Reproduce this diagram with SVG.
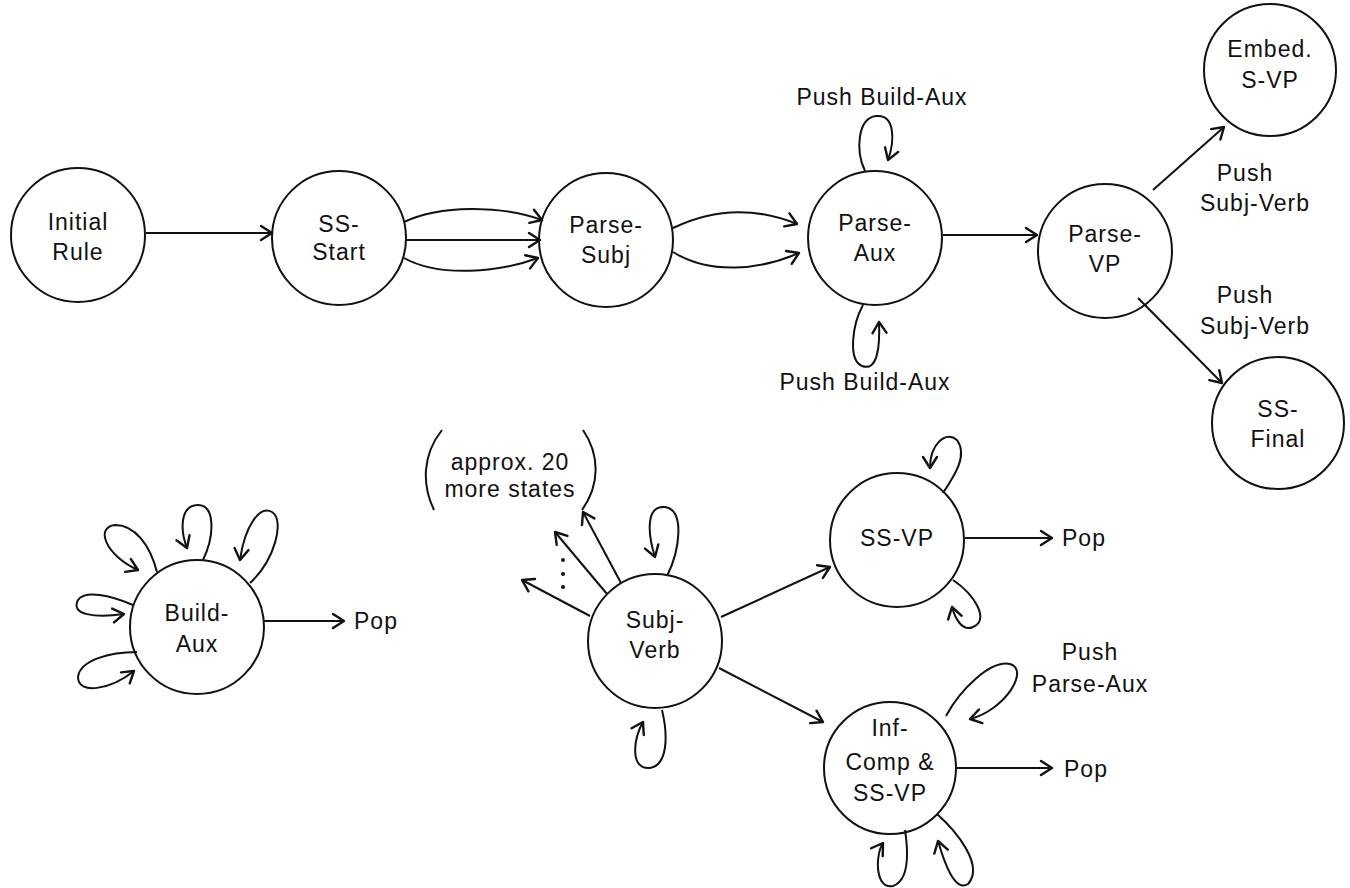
<svg xmlns="http://www.w3.org/2000/svg" width="1350" height="888" viewBox="0 0 1350 888">
<style>
.n{fill:none;stroke:#111;stroke-width:2}
.t{font-family:"Liberation Sans",Arial,sans-serif;font-size:23px;fill:#111;text-anchor:middle;letter-spacing:1px}
.e{fill:none;stroke:#111;stroke-width:2;marker-end:url(#ah)}
.p{fill:none;stroke:#111;stroke-width:2}
</style>
<defs>
<marker id="ah" viewBox="-14 -9 16 18" refX="0" refY="0" markerWidth="16" markerHeight="18" orient="auto" markerUnits="userSpaceOnUse">
<path d="M-11,-7 L0,0 L-11,7" fill="none" stroke="#111" stroke-width="2.4" stroke-linejoin="round" stroke-linecap="round"/>
</marker>
</defs>
<rect width="1350" height="888" fill="#fff"/>
<g id="connectors">
<path class="e" d="M146,233 L272,233"/>
<path class="e" d="M404,222 C440,205 500,205 542,220"/>
<path class="e" d="M406,240 L540,240"/>
<path class="e" d="M404,258 C440,278 500,272 538,258"/>
<path class="e" d="M673,228 C710,210 750,205 797,224"/>
<path class="e" d="M673,252 C710,275 760,270 799,253"/>
<path class="e" d="M943,235 L1037,235"/>
<path class="e" d="M865,171 C855,150 858,118 876,116 C895,114 895,140 888,160"/>
<path class="e" d="M863,305 C852,325 848,360 862,366 C878,372 880,345 879,322"/>
<path class="e" d="M1153,190 L1224,127"/>
<path class="e" d="M1138,298 L1222,383"/>
<path class="e" d="M157,572 C150,545 135,525 115,525 C95,527 105,555 138,570"/>
<path class="e" d="M203,560 C215,535 215,505 198,505 C180,505 180,530 187,548"/>
<path class="e" d="M250,583 C275,560 285,520 272,512 C260,505 245,525 240,560"/>
<path class="e" d="M133,605 C110,595 85,590 78,600 C70,615 95,618 124,614"/>
<path class="e" d="M137,652 C110,652 80,660 78,677 C78,695 110,690 134,671"/>
<path class="e" d="M264,621 L344,621"/>
<path class="e" d="M590,616 L522,580"/>
<path class="e" d="M607,594 L555,532"/>
<path class="e" d="M621,583 L583,512"/>
<path class="e" d="M667,576 C680,550 685,510 665,507 C645,505 648,535 655,557"/>
<path class="e" d="M662,710 C668,735 668,765 650,768 C630,770 633,740 643,722"/>
<path class="e" d="M721,617 L830,567"/>
<path class="e" d="M719,668 L823,722"/>
<path class="e" d="M965,538 L1052,538"/>
<path class="e" d="M943,493 C955,475 968,455 957,440 C945,430 930,445 930,468"/>
<path class="e" d="M953,580 C975,595 990,620 973,627 C962,632 955,618 952,607"/>
<path class="e" d="M957,768 L1052,768"/>
<path class="e" d="M946,716 C960,690 990,660 1010,664 C1030,670 1005,710 970,719"/>
<path class="e" d="M905,830 C908,850 910,880 893,886 C875,890 875,855 883,843"/>
<path class="e" d="M937,814 C955,830 985,865 968,884 C955,892 945,865 938,841"/>
</g>
<g id="labels">
<text class="t" x="882" y="105">Push Build-Aux</text>
<text class="t" x="865" y="390">Push Build-Aux</text>
<text class="t" x="1245" y="181">Push</text>
<text class="t" x="1255" y="211">Subj-Verb</text>
<text class="t" x="1245" y="303">Push</text>
<text class="t" x="1255" y="334">Subj-Verb</text>
<text class="t" x="354" y="629" style="text-anchor:start">Pop</text>
<text class="t" x="1062" y="546" style="text-anchor:start">Pop</text>
<text class="t" x="1064" y="777" style="text-anchor:start">Pop</text>
<text class="t" x="1090" y="660">Push</text>
<text class="t" x="1090" y="692">Parse-Aux</text>
</g>
<g id="more-states">
<path class="p" d="M442,430 C422,455 422,485 434,510"/>
<path class="p" d="M583,430 C600,455 600,485 582,510"/>
<text class="t" x="510" y="470">approx. 20</text>
<text class="t" x="510" y="497">more states</text>
<circle cx="563" cy="560" r="2" fill="#111"/>
<circle cx="563" cy="574" r="2" fill="#111"/>
<circle cx="563" cy="587" r="2" fill="#111"/>
</g>
<g id="initial-rule"><circle class="n" cx="78" cy="235" r="67"/><text class="t" x="78" y="230">Initial</text><text class="t" x="78" y="260">Rule</text></g>
<g id="ss-start"><circle class="n" cx="339" cy="238" r="67"/><text class="t" x="339" y="232">SS-</text><text class="t" x="339" y="260">Start</text></g>
<g id="parse-subj"><circle class="n" cx="606" cy="240" r="67"/><text class="t" x="606" y="233">Parse-</text><text class="t" x="606" y="263">Subj</text></g>
<g id="parse-aux"><circle class="n" cx="875" cy="238" r="67"/><text class="t" x="875" y="231">Parse-</text><text class="t" x="875" y="261">Aux</text></g>
<g id="parse-vp"><circle class="n" cx="1105" cy="251" r="67"/><text class="t" x="1105" y="242">Parse-</text><text class="t" x="1105" y="272">VP</text></g>
<g id="embed-s-vp"><circle class="n" cx="1270" cy="70" r="66"/><text class="t" x="1270" y="57">Embed.</text><text class="t" x="1270" y="88">S-VP</text></g>
<g id="ss-final"><circle class="n" cx="1278" cy="423" r="66"/><text class="t" x="1278" y="417">SS-</text><text class="t" x="1278" y="447">Final</text></g>
<g id="build-aux"><circle class="n" cx="197" cy="627" r="67"/><text class="t" x="197" y="621">Build-</text><text class="t" x="197" y="652">Aux</text></g>
<g id="subj-verb"><circle class="n" cx="655" cy="641" r="67"/><text class="t" x="655" y="628">Subj-</text><text class="t" x="655" y="658">Verb</text></g>
<g id="ss-vp"><circle class="n" cx="897" cy="540" r="67"/><text class="t" x="897" y="546">SS-VP</text></g>
<g id="inf-comp"><circle class="n" cx="890" cy="768" r="66"/><text class="t" x="890" y="736">Inf-</text><text class="t" x="890" y="770">Comp &amp;</text><text class="t" x="890" y="801">SS-VP</text></g>
</svg>
